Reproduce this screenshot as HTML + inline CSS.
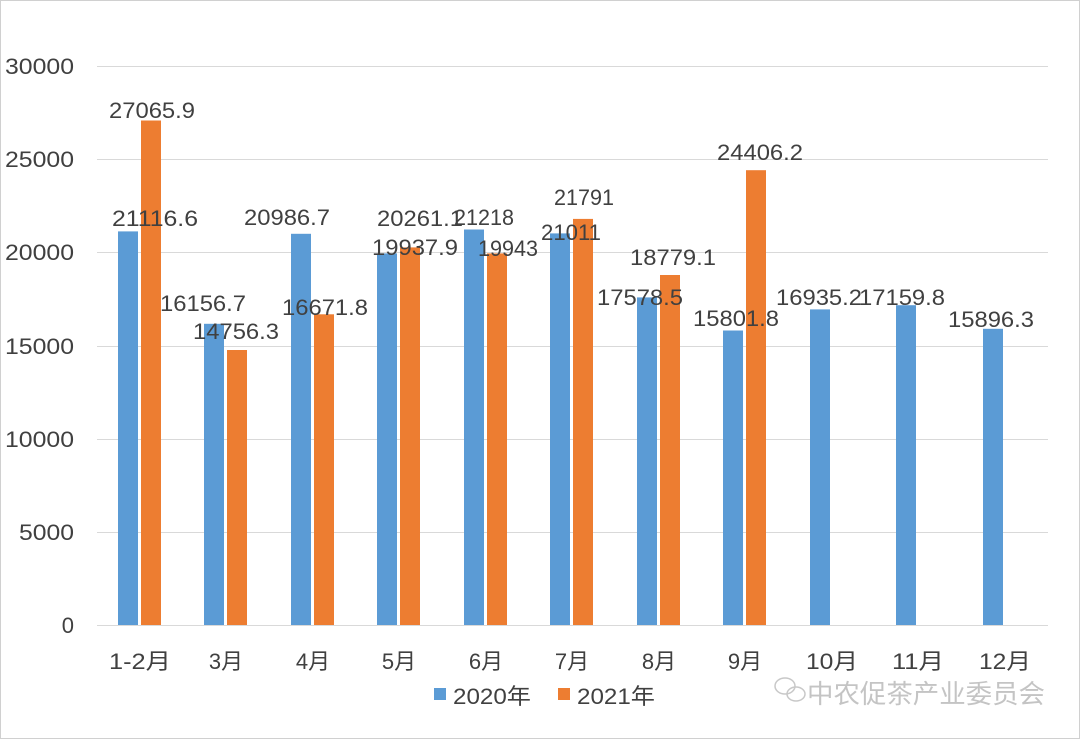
<!DOCTYPE html>
<html><head><meta charset="utf-8"><style>
html,body{margin:0;padding:0;background:#fff}
svg{display:block}
text{font-family:"Liberation Sans","Noto Sans CJK SC",sans-serif;fill:#404040}
</style></head><body>
<svg width="1080" height="739" xmlns="http://www.w3.org/2000/svg">
<rect x="0.5" y="0.5" width="1079" height="738" fill="#fff" stroke="#d0d0d0"/>
<g stroke="#d9d9d9" stroke-width="1">
<line x1="97" x2="1048" y1="66.5" y2="66.5"/>
<line x1="97" x2="1048" y1="159.5" y2="159.5"/>
<line x1="97" x2="1048" y1="252.5" y2="252.5"/>
<line x1="97" x2="1048" y1="346.5" y2="346.5"/>
<line x1="97" x2="1048" y1="439.5" y2="439.5"/>
<line x1="97" x2="1048" y1="532.5" y2="532.5"/>
<line x1="97" x2="1048" y1="625.5" y2="625.5"/>
</g>
<g font-size="22" text-anchor="end">
<text x="74" y="74" textLength="69" lengthAdjust="spacingAndGlyphs">30000</text>
<text x="74" y="167" textLength="69" lengthAdjust="spacingAndGlyphs">25000</text>
<text x="74" y="260" textLength="69" lengthAdjust="spacingAndGlyphs">20000</text>
<text x="74" y="354" textLength="69" lengthAdjust="spacingAndGlyphs">15000</text>
<text x="74" y="447" textLength="69" lengthAdjust="spacingAndGlyphs">10000</text>
<text x="74" y="540" textLength="55" lengthAdjust="spacingAndGlyphs">5000</text>
<text x="74" y="633">0</text>
</g>
<g fill="#5b9bd5">
<rect x="118" y="231.4" width="20" height="393.6"/>
<rect x="204" y="323.8" width="20" height="301.2"/>
<rect x="291" y="233.8" width="20" height="391.2"/>
<rect x="377" y="253.4" width="20" height="371.6"/>
<rect x="464" y="229.5" width="20" height="395.5"/>
<rect x="550" y="233.4" width="20" height="391.6"/>
<rect x="637" y="297.4" width="20" height="327.6"/>
<rect x="723" y="330.5" width="20" height="294.5"/>
<rect x="810" y="309.4" width="20" height="315.6"/>
<rect x="896" y="305.2" width="20" height="319.8"/>
<rect x="983" y="328.8" width="20" height="296.2"/>
</g>
<g fill="#ed7d31">
<rect x="141" y="120.5" width="20" height="504.5"/>
<rect x="227" y="350.0" width="20" height="275.0"/>
<rect x="314" y="314.3" width="20" height="310.7"/>
<rect x="400" y="247.4" width="20" height="377.6"/>
<rect x="487" y="253.4" width="20" height="371.6"/>
<rect x="573" y="218.9" width="20" height="406.1"/>
<rect x="660" y="275.0" width="20" height="350.0"/>
<rect x="746" y="170.2" width="20" height="454.8"/>
</g>
<g font-size="22" text-anchor="middle">
<text x="155" y="226" textLength="86" lengthAdjust="spacingAndGlyphs">21116.6</text>
<text x="152" y="118" textLength="86" lengthAdjust="spacingAndGlyphs">27065.9</text>
<text x="203" y="311" textLength="86" lengthAdjust="spacingAndGlyphs">16156.7</text>
<text x="236" y="339" textLength="86" lengthAdjust="spacingAndGlyphs">14756.3</text>
<text x="287" y="225" textLength="86" lengthAdjust="spacingAndGlyphs">20986.7</text>
<text x="325" y="315" textLength="86" lengthAdjust="spacingAndGlyphs">16671.8</text>
<text x="415" y="255" textLength="86" lengthAdjust="spacingAndGlyphs">19937.9</text>
<text x="420" y="226" textLength="86" lengthAdjust="spacingAndGlyphs">20261.1</text>
<text x="484" y="225" textLength="60" lengthAdjust="spacingAndGlyphs">21218</text>
<text x="508" y="256" textLength="60" lengthAdjust="spacingAndGlyphs">19943</text>
<text x="571" y="240" textLength="60" lengthAdjust="spacingAndGlyphs">21011</text>
<text x="584" y="205" textLength="60" lengthAdjust="spacingAndGlyphs">21791</text>
<text x="640" y="305" textLength="86" lengthAdjust="spacingAndGlyphs">17578.5</text>
<text x="673" y="265" textLength="86" lengthAdjust="spacingAndGlyphs">18779.1</text>
<text x="736" y="326" textLength="86" lengthAdjust="spacingAndGlyphs">15801.8</text>
<text x="760" y="160" textLength="86" lengthAdjust="spacingAndGlyphs">24406.2</text>
<text x="819" y="305" textLength="86" lengthAdjust="spacingAndGlyphs">16935.2</text>
<text x="902" y="305" textLength="86" lengthAdjust="spacingAndGlyphs">17159.8</text>
<text x="991" y="327" textLength="86" lengthAdjust="spacingAndGlyphs">15896.3</text>
</g>
<g font-size="22" text-anchor="middle">
<text x="140" y="669" textLength="62" lengthAdjust="spacingAndGlyphs">1-2月</text>
<text x="226" y="669">3月</text>
<text x="313" y="669">4月</text>
<text x="399" y="669">5月</text>
<text x="486" y="669">6月</text>
<text x="572" y="669">7月</text>
<text x="659" y="669">8月</text>
<text x="745" y="669">9月</text>
<text x="832" y="669" textLength="52" lengthAdjust="spacingAndGlyphs">10月</text>
<text x="918" y="669" textLength="52" lengthAdjust="spacingAndGlyphs">11月</text>
<text x="1005" y="669" textLength="52" lengthAdjust="spacingAndGlyphs">12月</text>
</g>
<rect x="434" y="688" width="12" height="12" fill="#5b9bd5"/>
<text x="453" y="704" font-size="22" textLength="78" lengthAdjust="spacingAndGlyphs">2020年</text>
<rect x="558" y="688" width="12" height="12" fill="#ed7d31"/>
<text x="577" y="704" font-size="22" textLength="78" lengthAdjust="spacingAndGlyphs">2021年</text>
<g stroke="#c8c8c8" fill="none" stroke-width="1.5">
<ellipse cx="785" cy="686" rx="10" ry="8"/>
<ellipse cx="796" cy="694" rx="9" ry="7"/>
</g>
<text x="807" y="703" font-size="26" textLength="238" lengthAdjust="spacingAndGlyphs" style="fill:#c4c4c4">中农促茶产业委员会</text>
</svg>
</body></html>
